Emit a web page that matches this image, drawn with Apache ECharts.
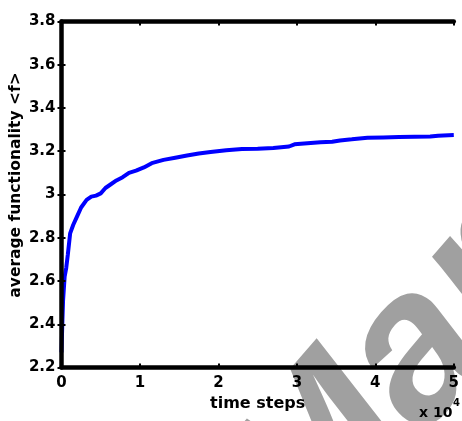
<!DOCTYPE html>
<html>
<head>
<meta charset="utf-8">
<script src="https://cdn.jsdelivr.net/npm/echarts@6/dist/echarts.min.js"></script>
<style>
  html, body { margin: 0; padding: 0; background: #fff; }
  #chart { width: 462px; height: 421px; }
</style>
</head>
<body>
<div id="chart"></div>
<script>
var myChart = echarts.init(document.getElementById("chart"));

// time steps, in units of 10^4
var timeSteps = [0, 0.01, 0.02, 0.04, 0.06, 0.08, 0.11, 0.15, 0.2, 0.25, 0.32, 0.38, 0.44, 0.5, 0.56, 0.62, 0.7,
    0.78, 0.86, 0.95, 1.05, 1.15, 1.3, 1.45, 1.6, 1.75, 1.9, 2.1, 2.3, 2.5, 2.7, 2.9, 2.97, 3.3, 3.45, 3.55, 3.7,
    3.9, 4.1, 4.3, 4.5, 4.7, 4.8, 5.0];
// average functionality <f>
var avgF = [2.27, 2.40, 2.51, 2.62, 2.66, 2.72, 2.82, 2.86, 2.90, 2.94, 2.975, 2.99, 2.995, 3.005, 3.03, 3.045, 3.065,
    3.08, 3.10, 3.11, 3.125, 3.145, 3.16, 3.17, 3.18, 3.19, 3.197, 3.205, 3.21, 3.212, 3.215, 3.222, 3.232, 3.242, 3.244,
    3.25, 3.255, 3.262, 3.264, 3.266, 3.267, 3.268, 3.272, 3.275];

var xTicks = [0, 1, 2, 3, 4, 5];
var yTicks = [2.2, 2.4, 2.6, 2.8, 3, 3.2, 3.4, 3.6, 3.8];

var font = "'DejaVu Sans', sans-serif";
var labelStyle = { color: "#000", fontFamily: font, fontWeight: "bold", fontSize: 15 };

var points = timeSteps.map(function (t, i) { return [t, avgF[i]]; });

var option = {
    animation: false,
    grid: { left: 61.5, top: 21.5, width: 401, height: 346 },
    graphic: [
        {
            // watermark
            type: "text",
            x: 344, y: 599,
            rotation: 49 * Math.PI / 180,
            z: -10,
            silent: true,
            style: {
                text: "Mar",
                fill: "#a0a0a0",
                font: "italic bold 210px 'Liberation Sans', Arial, sans-serif",
                textAlign: "left",
                textVerticalAlign: "bottom"
            }
        },
        {
            type: "text",
            x: 16, y: 185,
            rotation: Math.PI / 2,
            style: {
                text: "average functionality <f>",
                fill: "#000",
                font: "bold 15.5px 'DejaVu Sans', sans-serif",
                textAlign: "center",
                textVerticalAlign: "middle"
            }
        },
        {
            type: "text",
            x: 419, y: 420,
            style: {
                text: "x 10",
                fill: "#000",
                font: "bold 14px 'DejaVu Sans', sans-serif",
                textAlign: "left",
                textVerticalAlign: "bottom"
            }
        },
        {
            type: "text",
            x: 453, y: 408,
            style: {
                text: "4",
                fill: "#000",
                font: "bold 10px 'DejaVu Sans', sans-serif",
                textAlign: "left",
                textVerticalAlign: "bottom"
            }
        }
    ],
    xAxis: [
        {
            type: "value", min: 0, max: 5, interval: 1, z: 10,
            name: "time steps", nameLocation: "middle", nameGap: 24,
            nameTextStyle: Object.assign({}, labelStyle, { fontSize: 16 }),
            splitLine: { show: false },
            axisLine: { onZero: false, lineStyle: { color: "#000", width: 4.5 } },
            axisTick: { inside: true, length: 4, lineStyle: { color: "#000", width: 2 } },
            axisLabel: Object.assign({ margin: 8 }, labelStyle)
        },
        {
            type: "value", min: 0, max: 5, interval: 1, position: "top", z: 10,
            splitLine: { show: false },
            axisLine: { onZero: false, lineStyle: { color: "#000", width: 4.5 } },
            axisTick: { inside: true, length: 4, lineStyle: { color: "#000", width: 2 } },
            axisLabel: { show: false }
        }
    ],
    yAxis: [
        {
            type: "value", min: 2.2, max: 3.8, interval: 0.2, z: 10,
            splitLine: { show: false },
            axisLine: { onZero: false, lineStyle: { color: "#000", width: 4.5 } },
            axisTick: { inside: true, length: 4, lineStyle: { color: "#000", width: 2 } },
            axisLabel: Object.assign({
                margin: 6,
                formatter: function (v) { return String(Math.round(v * 10) / 10); }
            }, labelStyle)
        },
        {
            type: "value", min: 2.2, max: 3.8, interval: 0.2, position: "right", z: 10,
            splitLine: { show: false },
            axisLine: { show: false },
            axisTick: { inside: true, length: 4, lineStyle: { color: "#000", width: 2 } },
            axisLabel: { show: false }
        }
    ],
    series: [
        {
            type: "line",
            data: points,
            showSymbol: false,
            lineStyle: { color: "#0000ff", width: 4 },
            z: 5
        }
    ]
};

myChart.setOption(option);
</script>
</body>
</html>
